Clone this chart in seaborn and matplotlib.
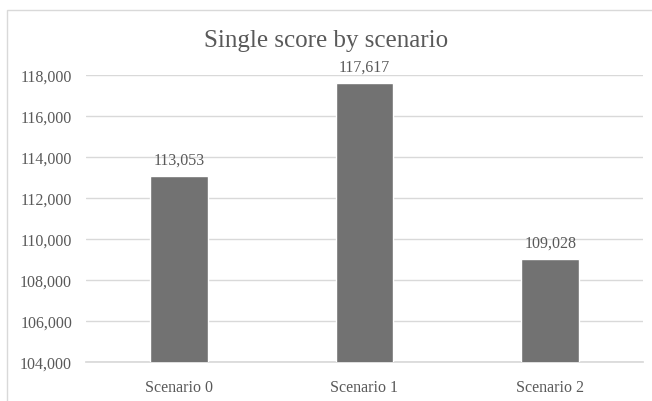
import numpy as np
import pandas as pd
import seaborn as sns
import matplotlib.pyplot as plt
from matplotlib.patches import Rectangle

# datos del grafico
scenarios = ['Scenario 0', 'Scenario 1', 'Scenario 2']
scores = [113053, 117617, 109028]
title = 'Single score by scenario'

sns.set_theme(style='white')
plt.rcParams['font.family'] = ['Liberation Serif', 'DejaVu Serif']

df = pd.DataFrame({'scenario': scenarios, 'score': scores})

fig = plt.figure(figsize=(6.52, 4.02), dpi=100)
ax = fig.add_axes([86 / 652, 1 - 363 / 402, 557 / 652, 287 / 402])

sns.barplot(data=df, x='scenario', y='score', color='#727272', width=0.31,
            saturation=1, ax=ax, zorder=3)

ax.set_ylim(104000, 118000)
ax.set_yticks(np.arange(104000, 118001, 2000))
ax.set_yticklabels([f'{v:,}' for v in range(104000, 118001, 2000)])
ax.yaxis.grid(True, color='#d9d9d9', linewidth=1, zorder=0)
ax.set_xlabel('')
ax.set_ylabel('')
for s in ax.spines.values():
    s.set_visible(False)
ax.spines['bottom'].set_visible(True)
ax.spines['bottom'].set_color('#d9d9d9')
ax.tick_params(axis='both', length=0, labelsize=11.5, colors='#595959')
ax.tick_params(axis='x', pad=12)
ax.tick_params(axis='y', pad=10)

for i, v in enumerate(scores):
    ax.annotate(f'{v:,}', (i, v), xytext=(0, 6), textcoords='offset points',
                ha='center', va='bottom', fontsize=11.5, color='#595959')

fig.text(0.5, 1 - 41 / 402, title, ha='center', va='center', fontsize=18,
         color='#595959')

# borde del area del grafico
fig.patches.append(Rectangle((7 / 652, -0.1), 1.2, 1 - 11 / 402 + 0.1,
                             transform=fig.transFigure, fill=False,
                             edgecolor='#d9d9d9', linewidth=1))

fig.savefig('out.png', dpi=100)
